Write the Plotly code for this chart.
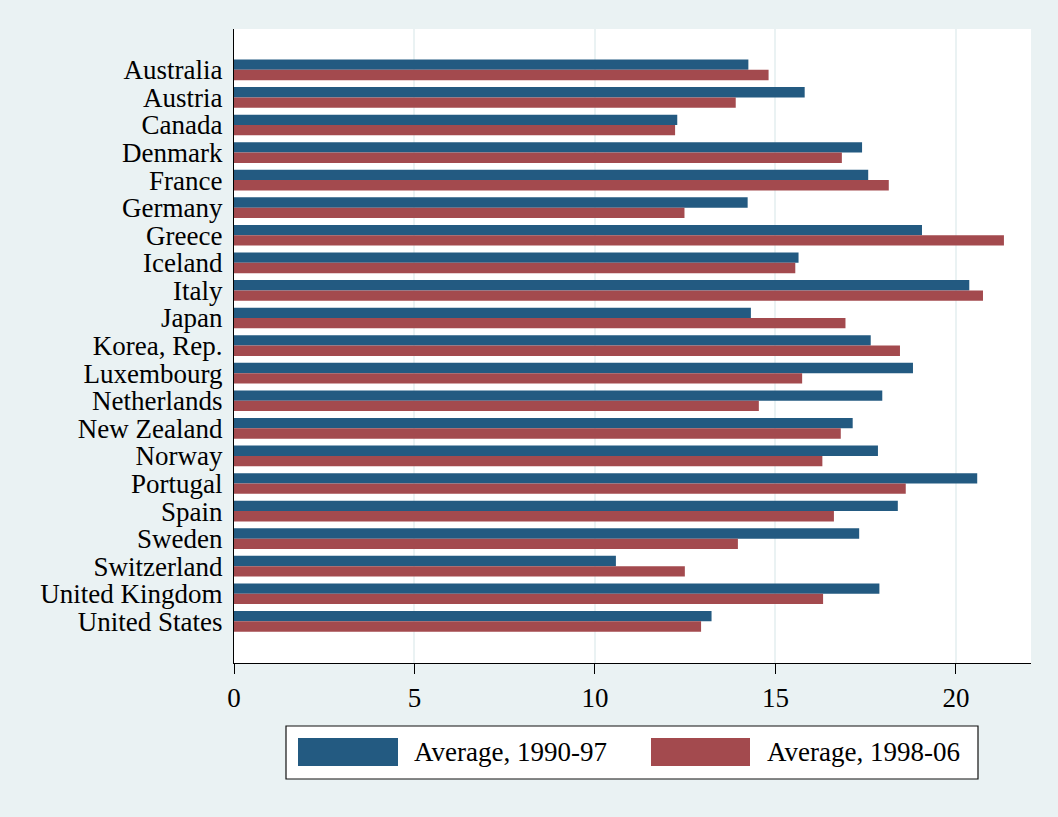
import plotly.graph_objects as go

countries = ["Australia", "Austria", "Canada", "Denmark", "France", "Germany", "Greece",
             "Iceland", "Italy", "Japan", "Korea, Rep.", "Luxembourg", "Netherlands",
             "New Zealand", "Norway", "Portugal", "Spain", "Sweden", "Switzerland",
             "United Kingdom", "United States"]
avg_1990_97 = [14.25, 15.81, 12.28, 17.40, 17.57, 14.23, 19.06, 15.64, 20.37, 14.32, 17.64,
               18.81, 17.96, 17.14, 17.84, 20.59, 18.39, 17.32, 10.58, 17.88, 13.23]
avg_1998_06 = [14.81, 13.90, 12.22, 16.84, 18.14, 12.48, 21.33, 15.55, 20.75, 16.94, 18.45,
               15.74, 14.54, 16.81, 16.30, 18.61, 16.62, 13.96, 12.49, 16.32, 12.94]
series_names = ["Average, 1990-97", "Average, 1998-06"]
x_ticks = [0, 5, 10, 15, 20]

BLUE = "#235A81"
RED = "#A34A4E"
BG = "#EAF2F3"
FONT = "Liberation Serif"

fig = go.Figure()
fig.add_trace(go.Bar(y=countries, x=avg_1990_97, orientation="h", name=series_names[0],
                     marker=dict(color=BLUE, line=dict(width=0)), showlegend=False))
fig.add_trace(go.Bar(y=countries, x=avg_1998_06, orientation="h", name=series_names[1],
                     marker=dict(color=RED, line=dict(width=0)), showlegend=False))

W, H = 1058, 817
L, R, T, B = 234, 1031, 29, 663
pw, ph = R - L, B - T

def px(x):
    return (x - L) / pw

def py(y):
    return (B - y) / ph

shapes = [
    dict(type="rect", xref="paper", yref="paper", x0=px(286), x1=px(978), y0=py(779), y1=py(726),
         fillcolor="white", line=dict(color="#111111", width=1.2)),
    dict(type="rect", xref="paper", yref="paper", x0=px(298), x1=px(398), y0=py(766), y1=py(738),
         fillcolor=BLUE, line=dict(width=0)),
    dict(type="rect", xref="paper", yref="paper", x0=px(651), x1=px(750), y0=py(766), y1=py(738),
         fillcolor=RED, line=dict(width=0)),
]
annotations = [
    dict(xref="paper", yref="paper", x=px(412), y=py(752), text=series_names[0], showarrow=False,
         xanchor="left", yanchor="middle", font=dict(family=FONT, size=27, color="black")),
    dict(xref="paper", yref="paper", x=px(765), y=py(752), text=series_names[1], showarrow=False,
         xanchor="left", yanchor="middle", font=dict(family=FONT, size=27, color="black")),
]

fig.update_layout(
    width=W, height=H,
    margin=dict(l=L, r=W - R, t=T, b=H - B),
    paper_bgcolor=BG, plot_bgcolor="white",
    barmode="group", bargap=0.25, bargroupgap=0,
    font=dict(family=FONT, size=27, color="black"),
    shapes=shapes, annotations=annotations,
    xaxis=dict(range=[0, 22.08], tickvals=x_ticks, ticks="outside", ticklen=10, tickwidth=1.3,
               tickcolor="black", showline=True, linecolor="black", linewidth=1.3,
               showgrid=True, gridcolor=BG, gridwidth=1.5, zeroline=False,
               tickfont=dict(family=FONT, size=27, color="black")),
    yaxis=dict(type="category", range=[21.51, -1.48], showline=True, linecolor="black",
               linewidth=1.3, ticks="", showgrid=False, ticklabelstandoff=5,
               tickmode="array", tickvals=countries, ticktext=countries,
               tickfont=dict(family=FONT, size=27, color="black")),
)

fig.write_html("out.html", config={"displayModeBar": False},
               post_script="document.body.style.margin='0';")
